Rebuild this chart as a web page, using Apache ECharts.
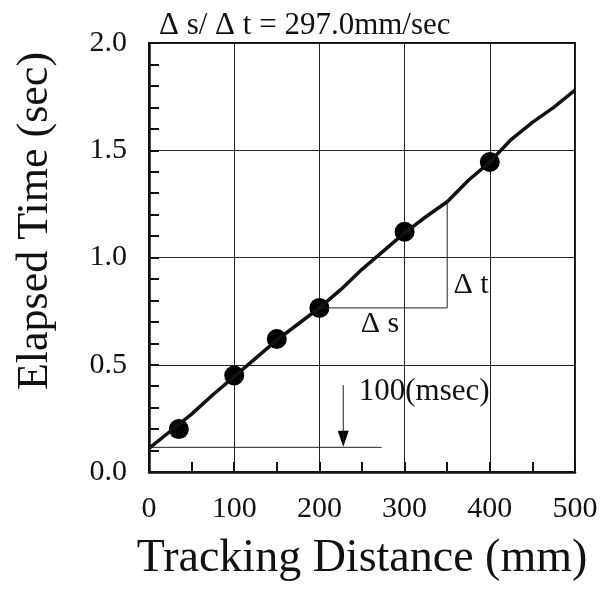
<!DOCTYPE html>
<html>
<head>
<meta charset="utf-8">
<script src="https://cdn.jsdelivr.net/npm/echarts@6/dist/echarts.min.js"></script>
<style>
html,body{margin:0;padding:0;background:#fff;}
#chart{width:607px;height:589px;}
</style>
</head>
<body>
<div id="chart"></div>
<script>
// tracking curve (distance mm, elapsed sec)
var trackDist = [0, 25, 50, 75, 100, 125, 150, 175, 200, 225, 250, 275, 300, 325, 350, 375, 400, 425, 450, 475, 500];
var trackTime = [0.11, 0.19, 0.27, 0.36, 0.445, 0.53, 0.615, 0.69, 0.765, 0.85, 0.945, 1.03, 1.115, 1.19, 1.26, 1.36, 1.445, 1.55, 1.63, 1.70, 1.78];
// marked samples
var dotDist = [35, 100, 150, 200, 300, 400];
var dotTime = [0.20, 0.45, 0.62, 0.765, 1.12, 1.445];
// annotation geometry
var slopeDist = [200, 350, 350];
var slopeTime = [0.765, 0.765, 1.265];
var msecDist = [0, 273];
var msecTime = [0.115, 0.115];
var arrowDist = [228, 228];
var arrowTime = [0.405, 0.13];
var xTicks = [0, 100, 200, 300, 400, 500];
var yTicks = [0.0, 0.5, 1.0, 1.5, 2.0];

var serif = 'Liberation Serif';

function pairs(a, b){
	var out = [];
	for(var i=0;i<a.length;i++){ out.push([a[i], b[i]]); }
	return out;
}

var chart = echarts.init(document.getElementById('chart'));
var option = {
	animation: false,
	title: {
		text: 'Δ s/ Δ t = 297.0mm/sec',
		left: 154,
		top: 5,
		textStyle: {fontFamily: serif, fontSize: 31, fontWeight: 'normal', color: '#111'}
	},
	grid: {
		left: 149, right: 32, top: 43, bottom: 117,
		outerBoundsMode: 'none',
		containLabel: false,
		show: true, borderColor: '#111', borderWidth: 2
	},
	xAxis: {
		type: 'value', min: 0, max: 500, interval: 100,
		axisLine: {show: true, lineStyle: {color: '#111', width: 2.5}},
		axisTick: {show: true, inside: true, length: 10, lineStyle: {color: '#111', width: 2}},
		minorTick: {show: true, splitNumber: 2, length: 10, lineStyle: {color: '#111', width: 2}},
		splitLine: {show: true, lineStyle: {color: '#222', width: 1}},
		axisLabel: {
			margin: 22, fontFamily: serif, fontSize: 30, color: '#111',
			formatter: function(v){ return xTicks.indexOf(v) >= 0 ? String(v) : ''; }
		},
		name: 'Tracking Distance (mm)',
		nameLocation: 'middle',
		nameGap: 64,
		nameTextStyle: {fontFamily: serif, fontSize: 46, color: '#111'}
	},
	yAxis: {
		type: 'value', min: 0, max: 2, interval: 0.5,
		axisLine: {show: true, lineStyle: {color: '#111', width: 2.5}},
		axisTick: {show: true, inside: true, length: 10, lineStyle: {color: '#111', width: 2}},
		minorTick: {show: true, splitNumber: 5, length: 10, lineStyle: {color: '#111', width: 2}},
		splitLine: {show: true, lineStyle: {color: '#222', width: 1}},
		axisLabel: {
			margin: 22, fontFamily: serif, fontSize: 30, color: '#111',
			formatter: function(v){ return v.toFixed(1); }
		}
	},
	graphic: [{
		type: 'text',
		x: 35, y: 221,
		rotation: Math.PI / 2,
		style: {
			text: 'Elapsed Time (sec)',
			font: '44px "Liberation Serif"',
			fill: '#111',
			align: 'center',
			verticalAlign: 'middle'
		}
	}],
	series: [
		{
			type: 'line', data: pairs(trackDist, trackTime),
			showSymbol: false, smooth: false,
			lineStyle: {color: '#111', width: 3.5}
		},
		{
			type: 'scatter', data: pairs(dotDist, dotTime),
			symbol: 'circle', symbolSize: 20,
			itemStyle: {color: '#000', opacity: 1}
		},
		{
			type: 'line', data: pairs(slopeDist, slopeTime),
			showSymbol: false, lineStyle: {color: '#222', width: 1}
		},
		{
			type: 'line', data: pairs(msecDist, msecTime),
			showSymbol: false, lineStyle: {color: '#222', width: 1}
		},
		{
			type: 'line', data: pairs(arrowDist, arrowTime),
			showSymbol: false, lineStyle: {color: '#222', width: 1}
		},
		{
			type: 'scatter',
			data: [[arrowDist[1], arrowTime[1] + 0.025]],
			symbol: 'triangle', symbolRotate: 180, symbolSize: [11, 16],
			itemStyle: {color: '#000', opacity: 1}
		},
		{
			type: 'scatter', symbolSize: 0,
			itemStyle: {opacity: 1},
			data: [
				{value: [271, 0.69], name: 'Δ s', label: {fontSize: 30}},
				{value: [378, 0.87], name: 'Δ t', label: {fontSize: 30}},
				{value: [323, 0.375], name: '100(msec)'}
			],
			label: {
				show: true, position: 'inside',
				formatter: function(p){ return p.name; },
				fontFamily: serif, fontSize: 31, color: '#111', opacity: 1
			}
		}
	]
};
chart.setOption(option);
</script>
</body>
</html>
